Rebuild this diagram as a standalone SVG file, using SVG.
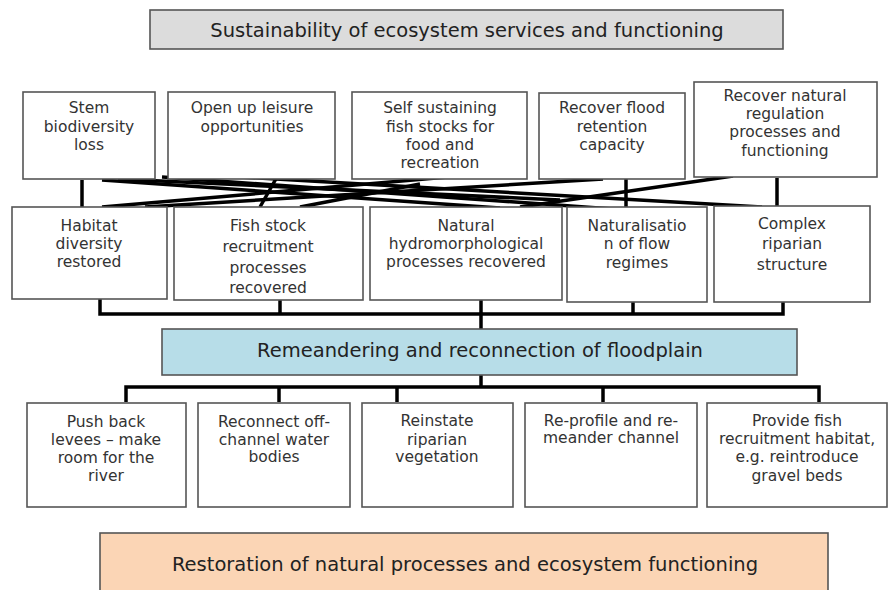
<svg xmlns="http://www.w3.org/2000/svg" width="888" height="590" viewBox="0 0 888 590">
<style>
.box{fill:#fff;stroke:#555;stroke-width:1.6}
.t{font-family:"DejaVu Sans",Verdana,sans-serif;font-size:15.5px;fill:#333;text-anchor:middle}
.big{font-family:"DejaVu Sans",Verdana,sans-serif;font-size:19.5px;fill:#222;text-anchor:middle}
.c{stroke:#000;stroke-width:3.5;fill:none;stroke-linecap:butt}
</style>
<rect width="888" height="590" fill="#fff"/>
<g id="title"><rect x="150" y="10" width="633" height="39" fill="#dcdcdc" stroke="#555" stroke-width="1.6"/><text class="big" x="467" y="37">Sustainability of ecosystem services and functioning</text></g>
<g id="connectors">
<path class="c" d="M82,180 V208"/>
<path class="c" d="M626,176 V209"/>
<path class="c" d="M777,178 V208"/>
<path class="c" d="M102,180 L500,208"/>
<path class="c" d="M102,207 L448,177"/>
<path class="c" d="M145,207 L603,179"/>
<path class="c" d="M162,177 L613,209"/>
<path class="c" d="M240,177 L762,207"/>
<path class="c" d="M118,179 L560,200"/>
<path class="c" d="M277,177 L260,207"/>
<path class="c" d="M300,207 L420,184"/>
<path class="c" d="M520,207 L733,176"/>
<path class="c" d="M100,299 V314 H783 V302"/>
<path class="c" d="M280,300 V314"/>
<path class="c" d="M633,302 V314"/>
<path class="c" d="M481,300 V329"/>
<path class="c" d="M481,375 V387"/>
<path class="c" d="M126,402 V387 H819 V402"/>
<path class="c" d="M279,387 V402"/>
<path class="c" d="M397,387 V402"/>
<path class="c" d="M603,387 V402"/>
</g>
<g id="n-stem"><rect class="box" x="23" y="92" width="132" height="87"/><text class="t" x="89" y="113">Stem</text><text class="t" x="89" y="132">biodiversity</text><text class="t" x="89" y="150">loss</text></g>
<g id="n-leisure"><rect class="box" x="168" y="92" width="167" height="87"/><text class="t" x="252" y="113">Open up leisure</text><text class="t" x="252" y="132">opportunities</text></g>
<g id="n-fishstocks"><rect class="box" x="352" y="92" width="175" height="87"/><text class="t" x="440" y="113">Self sustaining</text><text class="t" x="440" y="132">fish stocks for</text><text class="t" x="440" y="150">food and</text><text class="t" x="440" y="168">recreation</text></g>
<g id="n-flood"><rect class="box" x="539" y="93" width="146" height="86"/><text class="t" x="612" y="113">Recover flood</text><text class="t" x="612" y="132">retention</text><text class="t" x="612" y="150">capacity</text></g>
<g id="n-regulation"><rect class="box" x="694" y="82" width="183" height="95"/><text class="t" x="785" y="101">Recover natural</text><text class="t" x="785" y="119">regulation</text><text class="t" x="785" y="137">processes and</text><text class="t" x="785" y="156">functioning</text></g>
<g id="n-habitat"><rect class="box" x="12" y="207" width="155" height="92"/><text class="t" x="89" y="231">Habitat</text><text class="t" x="89" y="249">diversity</text><text class="t" x="89" y="267">restored</text></g>
<g id="n-recruit"><rect class="box" x="174" y="207" width="189" height="93"/><text class="t" x="268" y="231">Fish stock</text><text class="t" x="268" y="252">recruitment</text><text class="t" x="268" y="273">processes</text><text class="t" x="268" y="293">recovered</text></g>
<g id="n-hydro"><rect class="box" x="370" y="207" width="192" height="93"/><text class="t" x="466" y="231">Natural</text><text class="t" x="466" y="249">hydromorphological</text><text class="t" x="466" y="267">processes recovered</text></g>
<g id="n-flow"><rect class="box" x="567" y="207" width="140" height="95"/><text class="t" x="637" y="231">Naturalisatio</text><text class="t" x="637" y="249">n of flow</text><text class="t" x="637" y="268">regimes</text></g>
<g id="n-riparian"><rect class="box" x="714" y="206" width="156" height="96"/><text class="t" x="792" y="229">Complex</text><text class="t" x="792" y="249">riparian</text><text class="t" x="792" y="270">structure</text></g>
<g id="n-remeander"><rect x="162" y="329" width="635" height="46" fill="#b7dde8" stroke="#555" stroke-width="1.6"/><text class="big" x="480" y="357">Remeandering and reconnection of floodplain</text></g>
<g id="n-levees"><rect class="box" x="27" y="403" width="159" height="104"/><text class="t" x="106" y="427">Push back</text><text class="t" x="106" y="445">levees – make</text><text class="t" x="106" y="463">room for the</text><text class="t" x="106" y="481">river</text></g>
<g id="n-offchannel"><rect class="box" x="198" y="403" width="152" height="104"/><text class="t" x="274" y="427">Reconnect off-</text><text class="t" x="274" y="445">channel water</text><text class="t" x="274" y="462">bodies</text></g>
<g id="n-vegetation"><rect class="box" x="362" y="403" width="151" height="104"/><text class="t" x="437" y="426">Reinstate</text><text class="t" x="437" y="445">riparian</text><text class="t" x="437" y="462">vegetation</text></g>
<g id="n-reprofile"><rect class="box" x="525" y="403" width="172" height="104"/><text class="t" x="611" y="426">Re-profile and re-</text><text class="t" x="611" y="443">meander channel</text></g>
<g id="n-gravel"><rect class="box" x="707" y="403" width="180" height="104"/><text class="t" x="797" y="426">Provide fish</text><text class="t" x="797" y="444">recruitment habitat,</text><text class="t" x="797" y="462">e.g. reintroduce</text><text class="t" x="797" y="481">gravel beds</text></g>
<g id="n-restoration"><rect x="100" y="533" width="728" height="62" fill="#fbd5b5" stroke="#555" stroke-width="1.6"/><text class="big" x="465" y="571">Restoration of natural processes and ecosystem functioning</text></g>
</svg>
